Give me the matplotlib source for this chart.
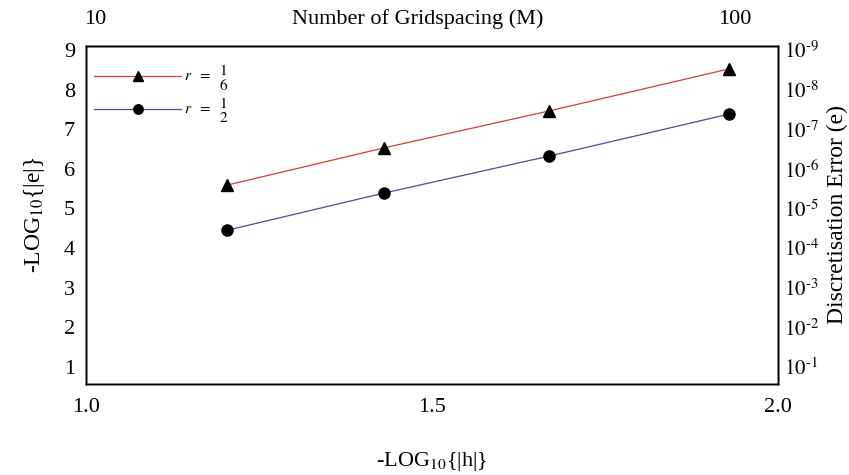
import matplotlib.pyplot as plt

plt.rcParams['font.family'] = ['Liberation Serif', 'DejaVu Serif']
plt.rcParams['mathtext.fontset'] = 'stix'

# -log10|h| for each grid, and -log10|e| for the two schemes
log_h = [1.204, 1.431, 1.669, 1.929]
err_r16 = [5.59, 6.53, 7.46, 8.52]
err_r12 = [4.45, 5.39, 6.32, 7.38]

y_ticks = [1, 2, 3, 4, 5, 6, 7, 8, 9]
right_labels = [r'$10^{\text{-}%d}$' % v for v in y_ticks]
x_ticks = [1.0, 1.5, 2.0]
top_ticks = [1.013, 1.937]
top_labels = ['10', '100']

fig = plt.figure(figsize=(8.49, 4.75), dpi=100)
ax = fig.add_axes([0.1013, 0.1916, 0.8151, 0.7116])

ax.plot(log_h, err_r16, color='#d83a3a', lw=0.9, marker='^', ms=8,
        mfc='black', mec='black', label=r'$r\ \ =\ \ \genfrac{}{}{0}{0}{1}{6}$')
ax.plot(log_h, err_r12, color='#4a4a9c', lw=0.9, marker='o', ms=8,
        mfc='black', mec='black', label=r'$r\ \ =\ \ \genfrac{}{}{0}{0}{1}{2}$')

ax.set_xlim(1.0, 2.0)
ax.set_ylim(0.57, 9.1)
ax.set_xticks(x_ticks)
ax.set_xticklabels(['1.0', '1.5', '2.0'])
ax.set_yticks(y_ticks)
ax.tick_params(length=0, labelsize=16, pad=8)
ax.tick_params(axis='x', pad=10)
ax.set_xlabel(r'-LOG$_{10}${|h|}', fontsize=16, labelpad=24)
ax.set_ylabel(r'-LOG$_{10}${|e|}', fontsize=17, labelpad=12)

right = ax.twinx()
right.set_ylim(ax.get_ylim())
right.set_yticks(y_ticks)
right.set_yticklabels(right_labels)
right.tick_params(length=0, labelsize=15, pad=4)
right.set_ylabel('Discretisation Error (e)', fontsize=17, labelpad=6)

top = ax.twiny()
top.set_xlim(ax.get_xlim())
top.set_xticks(top_ticks)
top.set_xticklabels(top_labels)
top.tick_params(length=0, labelsize=16, pad=12)
top.set_xlabel('Number of Gridspacing (M)', fontsize=16, va='center')
top.xaxis.set_label_coords(0.48, 1.08)

for a in (ax, right, top):
    for s in a.spines.values():
        s.set_linewidth(1.0)

ax.legend(loc='upper left', bbox_to_anchor=(-0.008, 0.99), frameon=False,
          fontsize=11, handlelength=5.7, handletextpad=0.2,
          labelspacing=0.2, markerscale=0.85)

fig.savefig('out.png', dpi=100)
